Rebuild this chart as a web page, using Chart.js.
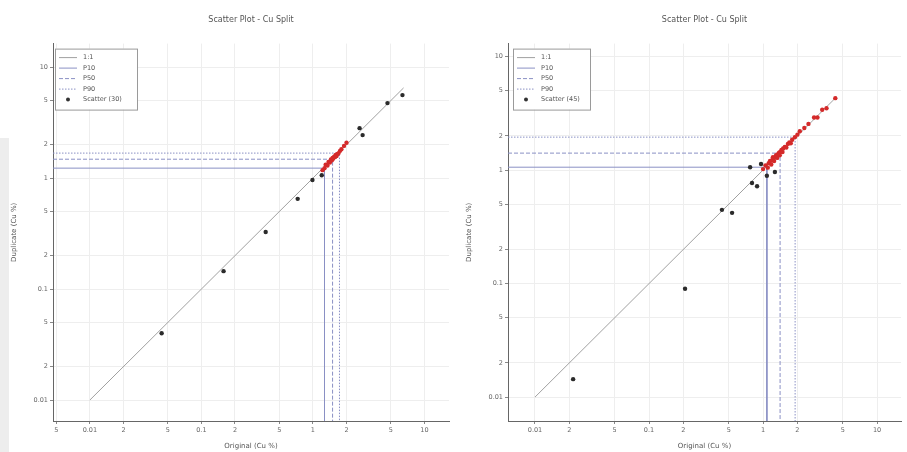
<!DOCTYPE html>
<html>
<head>
<meta charset="utf-8">
<script src="https://cdn.jsdelivr.net/npm/chart.js@4.4.0/dist/chart.umd.min.js"></script>
<style>
  html, body { margin: 0; padding: 0; background: #fff; }
  #wrap { position: relative; width: 907px; height: 452px; overflow: hidden; }
  .panel { position: absolute; top: 0; height: 452px; }
  #p1 { left: 0; width: 453px; }
  #p2 { left: 453px; width: 454px; }
  #edge { position: absolute; left: 0; top: 138px; width: 9px; height: 314px; background: #ededed; }
</style>
</head>
<body>
<div id="wrap">
  <div class="panel" id="p1"><canvas id="c1" width="453" height="452"></canvas></div>
  <div class="panel" id="p2"><canvas id="c2" width="454" height="452"></canvas></div>
  <div id="edge"></div>
</div>
<script>
// ---- tick positions and labels (log axes, 1-2-5 steps) ----
const tickValues = [0.005, 0.01, 0.02, 0.05, 0.1, 0.2, 0.5, 1, 2, 5, 10];
const tickLabels = ['5', '0.01', '2', '5', '0.1', '2', '5', '1', '2', '5', '10'];

// ---- left panel: 30 samples ----
const leftOrigBlack = [0.044, 0.158, 0.377, 0.73, 0.99, 1.20, 2.62, 2.79, 4.66, 6.35];
const leftDupBlack  = [0.040, 0.145, 0.327, 0.65, 0.96, 1.06, 2.82, 2.44, 4.74, 5.60];
const leftOrigRed = [1.22, 1.27, 1.30, 1.35, 1.38, 1.42, 1.45, 1.48, 1.50, 1.52,
                     1.55, 1.58, 1.60, 1.63, 1.66, 1.70, 1.75, 1.80, 1.90, 2.00];
const leftDupRed  = [1.18, 1.23, 1.32, 1.30, 1.40, 1.38, 1.47, 1.45, 1.52, 1.50,
                     1.56, 1.55, 1.62, 1.58, 1.65, 1.68, 1.76, 1.82, 1.95, 2.08];
const leftPctX = [1.27, 1.50, 1.73];   // P10, P50, P90 of original
const leftPctY = [1.23, 1.48, 1.68];   // P10, P50, P90 of duplicate
const leftOneToOne = [0.01, 6.5];

// ---- right panel: 45 samples ----
const rightOrigBlack = [0.0216, 0.207, 0.436, 0.535, 0.80, 0.886, 1.08, 0.96, 0.77, 1.27];
const rightDupBlack  = [0.0144, 0.090, 0.446, 0.420, 0.77, 0.72, 0.89, 1.13, 1.06, 0.96];
const rightOrigRed = [1.00, 1.05, 1.10, 1.12, 1.15, 1.18, 1.20, 1.22, 1.25, 1.28,
                      1.30, 1.33, 1.35, 1.38, 1.40, 1.42, 1.45, 1.48, 1.50, 1.55,
                      1.60, 1.65, 1.70, 1.75, 1.80, 1.90, 2.00, 2.10, 2.30, 2.50,
                      2.80, 3.00, 3.30, 3.60, 4.30];
const rightDupRed  = [1.02, 1.10, 1.05, 1.15, 1.20, 1.12, 1.22, 1.30, 1.20, 1.30,
                      1.35, 1.28, 1.38, 1.42, 1.35, 1.45, 1.50, 1.44, 1.55, 1.60,
                      1.58, 1.70, 1.75, 1.72, 1.85, 1.95, 2.05, 2.20, 2.35, 2.55,
                      2.90, 2.90, 3.40, 3.50, 4.30];
const rightPctX = [1.08, 1.41, 1.91];
const rightPctY = [1.06, 1.41, 1.95];
const rightOneToOne = [0.01, 4.4];

const pctNames = ['P10', 'P50', 'P90'];
const pctDash = [[], [4, 2], [1.5, 1.5]];
const FONT = '"DejaVu Sans", sans-serif';

// legend drawn as a framed box in the upper-left corner of the plot
const boxLegend = {
  id: 'boxLegend',
  afterDraw(chart, args, opts) {
    const { ctx, chartArea: a } = chart;
    const x0 = a.left + opts.dx, y0 = a.top + opts.dy;
    const w = opts.w, h = 61;
    ctx.save();
    ctx.fillStyle = '#fff';
    ctx.fillRect(x0, y0, w, h);
    ctx.strokeStyle = '#9a9a9a';
    ctx.lineWidth = 1;
    ctx.strokeRect(x0 + 0.5, y0 + 0.5, w, h);
    ctx.font = '6.5px ' + FONT;
    ctx.textBaseline = 'middle';
    chart.data.datasets.forEach((ds, i) => {
      const y = y0 + 9 + i * 10.5;
      if (ds.showLine) {
        ctx.strokeStyle = ds.borderColor;
        ctx.setLineDash(ds.borderDash || []);
        ctx.beginPath();
        ctx.moveTo(x0 + 4, y);
        ctx.lineTo(x0 + 22, y);
        ctx.stroke();
        ctx.setLineDash([]);
      } else {
        ctx.fillStyle = '#333';
        ctx.beginPath();
        ctx.arc(x0 + 13, y, 2, 0, Math.PI * 2);
        ctx.fill();
      }
      ctx.fillStyle = '#555';
      ctx.fillText(ds.label, x0 + 28, y);
    });
    ctx.restore();
  }
};

function makeChart(id, cfg) {
  const pts = [];
  const cols = [];
  cfg.ob.forEach((v, i) => { pts.push({ x: v, y: cfg.db[i] }); cols.push('#2b2b2b'); });
  cfg.or.forEach((v, i) => { pts.push({ x: v, y: cfg.dr[i] }); cols.push('#d42a2a'); });

  const datasets = [{
    label: '1:1',
    data: cfg.oneToOne.map(v => ({ x: v, y: v })),
    showLine: true, borderColor: '#a0a0a0', borderWidth: 1,
    pointRadius: 0, order: 5
  }];
  pctNames.forEach((name, k) => {
    datasets.push({
      label: name,
      data: [
        { x: cfg.xMin, y: cfg.py[k] },
        { x: cfg.px[k], y: cfg.py[k] },
        { x: cfg.px[k], y: cfg.yMin }
      ],
      showLine: true, borderColor: '#8a90c4', borderWidth: 1,
      borderDash: pctDash[k], pointRadius: 0, order: 4
    });
  });
  datasets.push({
    label: 'Scatter (' + pts.length + ')',
    data: pts, showLine: false,
    pointRadius: 2.2, pointBackgroundColor: cols, pointBorderColor: cols,
    pointBorderWidth: 0, order: 1
  });

  const axis = (min, max, titleText, fitSize, horizontal) => ({
    type: 'logarithmic', min, max,
    afterBuildTicks(s) {
      s.ticks = tickValues.filter(v => v >= min && v <= max).map(v => ({ value: v }));
    },
    afterFit(s) { if (horizontal) s.height = fitSize; else s.width = fitSize; },
    ticks: {
      autoSkip: false, maxRotation: 0, padding: 2, color: '#666',
      font: { family: FONT, size: 6.5 },
      callback: (v) => { const i = tickValues.indexOf(v); return i >= 0 ? tickLabels[i] : ''; }
    },
    grid: { color: '#eeeeee', lineWidth: 1, tickLength: 3, tickColor: '#888' },
    border: { display: true, color: '#666', width: 1 },
    title: {
      display: true, text: titleText, color: '#555',
      font: { family: FONT, size: 7 },
      padding: horizontal ? { top: 0, bottom: 2 } : { top: cfg.yTitlePad, bottom: 0 }
    }
  });

  return new Chart(document.getElementById(id), {
    type: 'scatter',
    data: { datasets },
    plugins: [boxLegend],
    options: {
      responsive: false, animation: false,
      layout: { padding: { left: 0, right: cfg.padRight, top: 0, bottom: 0 } },
      scales: {
        x: axis(cfg.xMin, cfg.xMax, 'Original (Cu %)', 31, true),
        y: axis(cfg.yMin, cfg.yMax, 'Duplicate (Cu %)', cfg.yWidth, false)
      },
      plugins: {
        legend: { display: false },
        tooltip: { enabled: false },
        title: {
          display: true, text: 'Scatter Plot - Cu Split', fullSize: false,
          color: '#555', font: { family: FONT, size: 8, weight: 'normal' },
          padding: { top: 15, bottom: 19 }
        },
        boxLegend: { dx: cfg.legDx, dy: 5, w: cfg.legW }
      }
    }
  });
}

makeChart('c1', {
  ob: leftOrigBlack, db: leftDupBlack, or: leftOrigRed, dr: leftDupRed,
  px: leftPctX, py: leftPctY, oneToOne: leftOneToOne,
  xMin: 0.00467, xMax: 16.6, yMin: 0.00647, yMax: 16.3,
  yWidth: 53, padRight: 3, yTitlePad: 10, legDx: 2, legW: 82
});
makeChart('c2', {
  ob: rightOrigBlack, db: rightDupBlack, or: rightOrigRed, dr: rightDupRed,
  px: rightPctX, py: rightPctY, oneToOne: rightOneToOne,
  xMin: 0.0058, xMax: 16.2, yMin: 0.00616, yMax: 13.0,
  yWidth: 55, padRight: 6, yTitlePad: 12, legDx: 5, legW: 77
});
</script>
</body>
</html>
